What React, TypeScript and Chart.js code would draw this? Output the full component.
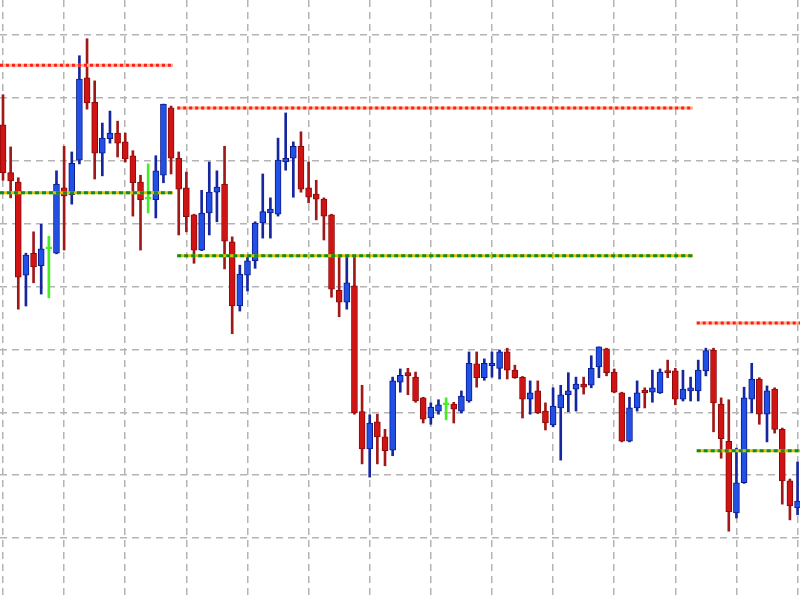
import React, { useEffect, useRef } from "react";
import { Chart, registerables } from "chart.js";

Chart.register(...registerables);

// OHLC values per candle (index 0..104)
const opens = [
  75.7, 68.1, 66.6, 51.8, 55.3, 53.3, 56.0, 55.3, 65.7, 64.6,
  70.1, 83.2, 79.3, 71.2, 73.5, 74.4, 73.0, 70.8, 66.6, 63.9,
  63.8, 67.7, 78.4, 70.4, 65.7, 61.4, 55.8, 61.7, 65.0, 66.3,
  57.1, 46.9, 51.8, 54.1, 60.1, 61.7, 61.5, 69.8, 70.4, 72.3,
  65.7, 64.7, 63.9, 61.4, 49.4, 47.5, 50.1, 30.1, 24.2, 28.5,
  26.1, 24.0, 34.8, 36.3, 35.6, 32.3, 29.1, 30.2, 31.2, 31.3,
  30.2, 31.8, 37.7, 35.5, 37.4, 37.0, 39.6, 36.7, 35.6, 32.1,
  33.4, 30.2, 28.0, 30.7, 32.8, 33.7, 34.5, 34.3, 37.2, 40.1,
  36.4, 33.1, 25.4, 30.7, 33.5, 33.2, 33.1, 36.6, 36.6, 32.1,
  33.4, 33.4, 36.6, 39.9, 31.3, 25.4, 14.0, 18.8, 32.1, 35.3,
  29.7, 33.7, 27.3, 19.1, 14.8,
];
const highs = [
  80.5, 72.2, 67.3, 55.3, 58.7, 59.9, 58.0, 68.4, 72.3, 71.4,
  86.7, 89.4, 82.7, 76.0, 77.9, 76.3, 74.4, 71.6, 67.7, 69.5,
  70.8, 79.0, 78.7, 71.4, 68.2, 61.5, 65.3, 69.8, 68.4, 72.3,
  57.9, 53.4, 55.0, 60.3, 67.9, 64.1, 73.6, 77.6, 73.0, 74.6,
  69.8, 66.9, 64.1, 61.5, 54.9, 54.9, 54.9, 34.3, 29.6, 29.7,
  27.3, 35.6, 36.9, 37.0, 36.4, 32.4, 31.5, 32.0, 32.3, 31.6,
  33.4, 39.6, 39.6, 38.5, 39.6, 39.9, 40.2, 37.5, 35.7, 35.0,
  35.0, 31.5, 33.9, 34.3, 36.3, 35.6, 35.6, 39.0, 40.4, 40.2,
  36.9, 33.2, 32.4, 35.0, 33.9, 36.7, 36.9, 38.3, 37.0, 36.7,
  35.6, 38.3, 40.2, 40.2, 32.3, 32.0, 24.3, 34.0, 37.8, 35.5,
  34.2, 33.9, 27.5, 19.4, 22.1,
];
const lows = [
  66.9, 64.1, 46.4, 46.9, 50.6, 48.8, 48.2, 55.2, 55.8, 63.1,
  69.5, 78.2, 67.1, 67.6, 72.8, 70.6, 69.8, 61.2, 55.8, 61.7,
  60.9, 66.5, 67.9, 58.2, 58.7, 53.7, 55.7, 58.2, 60.3, 52.8,
  42.5, 46.1, 49.3, 52.9, 57.7, 57.7, 61.2, 68.5, 64.2, 65.0,
  63.3, 60.6, 57.4, 48.3, 45.2, 46.4, 29.7, 21.8, 19.7, 21.8,
  21.5, 23.1, 33.2, 32.8, 31.6, 28.3, 28.1, 29.7, 28.8, 28.3,
  29.9, 31.6, 34.0, 35.1, 35.6, 35.3, 35.3, 35.4, 29.1, 29.7,
  29.8, 27.2, 27.7, 22.4, 30.1, 30.2, 32.9, 33.9, 35.5, 35.8,
  33.1, 25.3, 25.3, 30.2, 30.7, 31.6, 33.0, 35.5, 31.2, 31.8,
  31.8, 31.8, 35.8, 26.9, 22.7, 11.1, 13.2, 18.7, 29.9, 28.1,
  25.3, 26.7, 15.4, 12.9, 13.7,
];
const closes = [
  68.1, 66.8, 51.5, 55.0, 53.1, 56.0, 56.0, 66.3, 64.4, 69.6,
  83.0, 79.2, 71.2, 73.6, 74.4, 72.8, 70.3, 66.5, 63.8, 63.9,
  68.4, 79.0, 70.4, 65.5, 61.1, 55.8, 61.7, 65.0, 65.8, 57.2,
  46.9, 52.0, 54.1, 60.1, 61.9, 62.3, 70.1, 70.4, 72.3, 65.5,
  64.2, 63.9, 61.2, 49.6, 47.5, 50.6, 29.9, 24.2, 28.3, 26.1,
  23.9, 35.0, 35.9, 35.8, 31.8, 28.9, 30.8, 31.2, 31.2, 30.5,
  32.6, 37.8, 35.5, 37.8, 37.8, 39.6, 36.7, 35.5, 32.1, 33.1,
  29.9, 28.3, 31.0, 32.8, 33.4, 34.5, 34.0, 37.0, 40.4, 36.3,
  33.2, 25.4, 30.7, 33.1, 33.1, 33.9, 36.4, 36.3, 32.1, 33.7,
  33.9, 36.7, 39.8, 31.5, 25.8, 14.2, 18.8, 32.3, 35.3, 29.7,
  33.4, 27.3, 19.1, 15.1, 15.9,
];

// Horizontal level lines (start / end candle index and level value)
const levelStarts = [-0.4, 22.8, 90.8];
const levelEnds = [22.25, 90.3, 104.5];
const resistanceLevels = [85.2, 78.4, 44.2];
const supportLevels = [64.9, 54.9, 23.9];

// Grid tick values
const xGridTicks = [0, 8, 16, 24, 32, 40, 48, 56, 64, 72, 80, 88, 96, 104];
const yGridTicks = [0, 10, 20, 30, 40, 50, 60, 70, 80, 90];

const UP_FILL = "#2150e6";
const UP_EDGE = "#0c1a8c";
const DOWN_FILL = "#d01414";
const DOWN_EDGE = "#8c0a0a";
const DOJI = "#44ee22";

function levelData(levels: number[]) {
  const pts: { x: number; y: number | null }[] = [];
  levels.forEach((v, k) => {
    pts.push({ x: levelStarts[k], y: v });
    pts.push({ x: levelEnds[k], y: v });
    pts.push({ x: levelEnds[k] + 0.01, y: null });
  });
  return pts;
}

export default function App() {
  const ref = useRef<HTMLCanvasElement | null>(null);

  useEffect(() => {
    document.body.style.margin = "0";
    const canvas = ref.current;
    if (!canvas) return;

    const kind = opens.map((o, i) =>
      closes[i] > o ? "up" : closes[i] < o ? "down" : "doji"
    );
    const fills = kind.map((k) => (k === "up" ? UP_FILL : k === "down" ? DOWN_FILL : DOJI));
    const edges = kind.map((k) => (k === "up" ? UP_EDGE : k === "down" ? DOWN_EDGE : DOJI));
    const wickColors = kind.map((k) =>
      k === "up" ? "#15269e" : k === "down" ? "#a01818" : DOJI
    );

    const gridCommon = {
      color: "#b4b4b4",
      lineWidth: 1.5,
      drawTicks: false,
      tickLength: 0,
      offset: false,
    };

    const chart = new Chart(canvas, {
      type: "bar",
      data: {
        datasets: [
          {
            type: "line",
            data: levelData(resistanceLevels),
            borderColor: "#ff1e1e",
            borderWidth: 3,
            borderDash: [3, 3],
            pointRadius: 0,
            spanGaps: false,
            order: 0,
          } as any,
          {
            type: "line",
            data: levelData(resistanceLevels),
            borderColor: "#ffb08a",
            borderWidth: 3,
            pointRadius: 0,
            spanGaps: false,
            order: 1,
          } as any,
          {
            type: "line",
            data: levelData(supportLevels),
            borderColor: "#138a2a",
            borderWidth: 3,
            borderDash: [4, 3],
            pointRadius: 0,
            spanGaps: false,
            order: 0,
          } as any,
          {
            type: "line",
            data: levelData(supportLevels),
            borderColor: "#d6c800",
            borderWidth: 3,
            pointRadius: 0,
            spanGaps: false,
            order: 1,
          } as any,
          {
            type: "bar",
            data: opens.map((o, i) => ({ x: i, y: [o, closes[i]] })),
            backgroundColor: fills,
            borderColor: edges,
            borderWidth: 1,
            borderSkipped: false,
            barThickness: 6,
            minBarLength: 2,
            grouped: false,
            order: 2,
          } as any,
          {
            type: "bar",
            data: lows.map((l, i) => ({ x: i, y: [l, highs[i]] })),
            backgroundColor: wickColors,
            borderWidth: 0,
            barThickness: 2,
            grouped: false,
            order: 3,
          } as any,
        ],
      },
      options: {
        animation: false,
        responsive: true,
        maintainAspectRatio: false,
        layout: { padding: 0 },
        plugins: {
          legend: { display: false },
          tooltip: { enabled: false },
          title: { display: false },
        },
        scales: {
          x: {
            type: "linear",
            min: -0.393,
            max: 104.32,
            offset: false,
            ticks: { display: false },
            border: { display: false, dash: [7, 5] },
            grid: gridCommon,
            afterBuildTicks: (s: any) => {
              s.ticks = xGridTicks.map((v) => ({ value: v }));
            },
          },
          y: {
            type: "linear",
            min: 0.16,
            max: 95.56,
            ticks: { display: false },
            border: { display: false, dash: [7, 5] },
            grid: gridCommon,
            afterBuildTicks: (s: any) => {
              s.ticks = yGridTicks.map((v) => ({ value: v }));
            },
          },
        },
      } as any,
    });

    return () => chart.destroy();
  }, []);

  return (
    <div
      style={{
        position: "absolute",
        left: 0,
        top: 0,
        width: 800,
        height: 600,
        background: "#ffffff",
      }}
    >
      <canvas ref={ref} />
    </div>
  );
}
